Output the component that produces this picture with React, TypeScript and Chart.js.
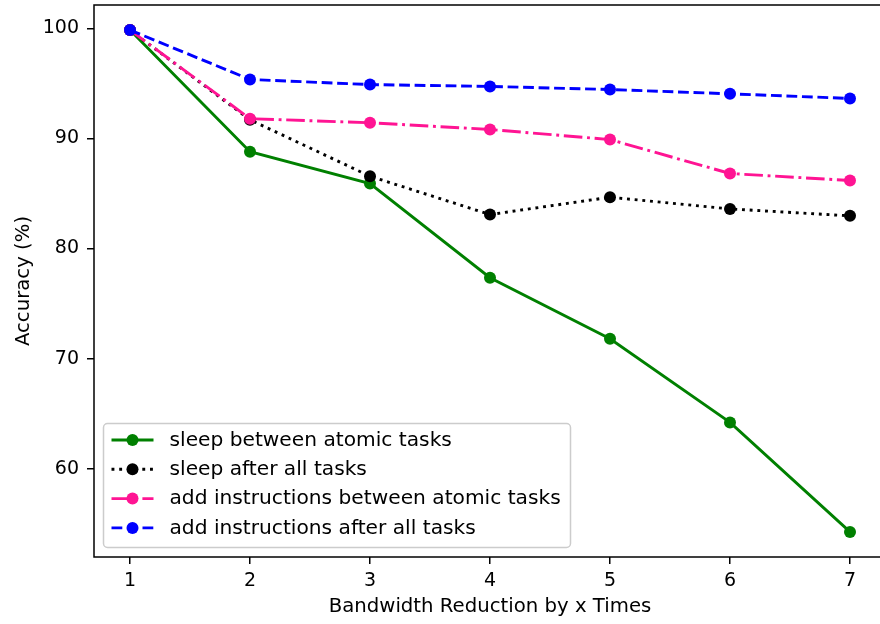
import React, { useEffect, useRef } from "react";
import { Chart, registerables } from "chart.js";

Chart.register(...registerables);

// ---- data ----
const xValues = [1, 2, 3, 4, 5, 6, 7];
const xTicks = [1, 2, 3, 4, 5, 6, 7];
const yTicks = [60, 70, 80, 90, 100];

const seriesLabels = [
  "sleep between atomic tasks",
  "sleep after all tasks",
  "add instructions between atomic tasks",
  "add instructions after all tasks",
];
const sleepBetween = [99.85, 88.8, 85.9, 77.35, 71.8, 64.2, 54.25];
const sleepAfter = [99.85, 91.7, 86.57, 83.09, 84.66, 83.6, 82.97];
const addBetween = [99.85, 91.8, 91.43, 90.82, 89.9, 86.82, 86.18];
const addAfter = [99.85, 95.36, 94.9, 94.73, 94.45, 94.06, 93.64];

const xTitle = "Bandwidth Reduction by x Times";
const yTitle = "Accuracy (%)";

// ---- styles ----
const FONT = "DejaVu Sans";
const TICK_FS = 19;
const TITLE_FS = 19.7;
const LEGEND_FS = 20.2;
const LW = 2.9;
const colors = ["#008000", "#000000", "#ff1493", "#0000ff"];
const dashes: number[][] = [[], [2.9, 4.8], [18.6, 4.7, 2.9, 4.7], [10.8, 4.7]];

const framePlugin = {
  id: "frameAndLegend",
  afterDatasetsDraw(chart: any) {
    const { ctx, chartArea: a } = chart;
    ctx.save();
    // axes frame
    ctx.strokeStyle = "#000";
    ctx.lineWidth = 1.5;
    ctx.setLineDash([]);
    ctx.strokeRect(a.left, a.top, a.right - a.left, a.bottom - a.top);

    // legend
    const bx = a.left + 9.5;
    const by = a.bottom - 133.5;
    const bw = 467;
    const bh = 124;
    const r = 4;
    ctx.beginPath();
    ctx.moveTo(bx + r, by);
    ctx.lineTo(bx + bw - r, by);
    ctx.arcTo(bx + bw, by, bx + bw, by + r, r);
    ctx.lineTo(bx + bw, by + bh - r);
    ctx.arcTo(bx + bw, by + bh, bx + bw - r, by + bh, r);
    ctx.lineTo(bx + r, by + bh);
    ctx.arcTo(bx, by + bh, bx, by + bh - r, r);
    ctx.lineTo(bx, by + r);
    ctx.arcTo(bx, by, bx + r, by, r);
    ctx.closePath();
    ctx.fillStyle = "rgba(255,255,255,0.8)";
    ctx.fill();
    ctx.strokeStyle = "#cccccc";
    ctx.lineWidth = 1.5;
    ctx.stroke();

    chart.data.datasets.forEach((ds: any, i: number) => {
      const y = by + 16.5 + i * 29.3;
      const x0 = bx + 8;
      const x1 = x0 + 42;
      ctx.strokeStyle = ds.borderColor;
      ctx.lineWidth = LW;
      ctx.setLineDash(ds.borderDash || []);
      ctx.beginPath();
      ctx.moveTo(x0, y);
      ctx.lineTo(x1, y);
      ctx.stroke();
      ctx.setLineDash([]);
      ctx.fillStyle = ds.pointBackgroundColor;
      ctx.beginPath();
      ctx.arc((x0 + x1) / 2, y, 6, 0, Math.PI * 2);
      ctx.fill();
      ctx.fillStyle = "#000";
      ctx.font = `${LEGEND_FS}px "${FONT}"`;
      ctx.textBaseline = "middle";
      ctx.textAlign = "left";
      ctx.fillText(ds.label, x1 + 16, y + 0.5);
    });
    ctx.restore();
  },
};

export default function App() {
  const ref = useRef<HTMLCanvasElement | null>(null);

  useEffect(() => {
    if (!ref.current) return;
    const all = [...sleepBetween, ...sleepAfter, ...addBetween, ...addAfter];
    const yMinD = Math.min(...all);
    const yMaxD = Math.max(...all);
    const yPad = 0.05 * (yMaxD - yMinD);
    const xMinD = Math.min(...xValues);
    const xMaxD = Math.max(...xValues);
    const xPad = 0.05 * (xMaxD - xMinD);

    const seriesValues = [sleepBetween, sleepAfter, addBetween, addAfter];
    const datasets = seriesValues.map((vals, i) => ({
      label: seriesLabels[i],
      data: xValues.map((x, j) => ({ x, y: vals[j] })),
      borderColor: colors[i],
      backgroundColor: colors[i],
      pointBackgroundColor: colors[i],
      pointBorderColor: colors[i],
      pointBorderWidth: 0,
      pointRadius: 6,
      pointHoverRadius: 6,
      borderWidth: LW,
      borderDash: dashes[i],
      tension: 0,
      fill: false,
      order: seriesValues.length - i,
    }));

    const tickFont = { family: FONT, size: TICK_FS };
    const titleFont = { family: FONT, size: TITLE_FS };
    const chart = new Chart(ref.current, {
      type: "line",
      data: { datasets },
      plugins: [framePlugin],
      options: {
        animation: false,
        responsive: false,
        devicePixelRatio: 1,
        events: [],
        layout: { autoPadding: false, padding: { top: 5, left: 0, right: 0, bottom: 0 } },
        plugins: { legend: { display: false }, tooltip: { enabled: false } },
        scales: {
          x: {
            type: "linear",
            min: xMinD - xPad,
            max: xMaxD + xPad,
            afterBuildTicks: (s: any) => {
              s.ticks = xTicks.map((v) => ({ value: v }));
            },
            afterFit: (s: any) => {
              s.height = 67;
              s.paddingLeft = 0;
              s.paddingRight = 0;
              s.paddingTop = 0;
              s.paddingBottom = 0;
            },
            grid: {
              display: true,
              drawOnChartArea: false,
              drawTicks: true,
              tickLength: 7,
              color: "#000",
              lineWidth: 1.5,
            },
            border: { display: false },
            ticks: {
              font: tickFont,
              color: "#000",
              padding: 6,
              maxRotation: 0,
              autoSkip: false,
              callback: (v: any) => String(v),
            },
            title: {
              display: true,
              text: xTitle,
              font: titleFont,
              color: "#000",
              padding: { top: 0, bottom: 5 },
            },
          },
          y: {
            type: "linear",
            min: yMinD - yPad,
            max: yMaxD + yPad,
            afterBuildTicks: (s: any) => {
              s.ticks = yTicks.map((v) => ({ value: v }));
            },
            afterFit: (s: any) => {
              s.width = 94;
              s.paddingLeft = 0;
              s.paddingRight = 0;
              s.paddingTop = 0;
              s.paddingBottom = 0;
            },
            grid: {
              display: true,
              drawOnChartArea: false,
              drawTicks: true,
              tickLength: 7,
              color: "#000",
              lineWidth: 1.5,
            },
            border: { display: false },
            ticks: {
              font: tickFont,
              color: "#000",
              padding: 8,
              autoSkip: false,
              callback: (v: any) => String(v),
            },
            title: {
              display: true,
              text: yTitle,
              font: titleFont,
              color: "#000",
              padding: { top: 12.4, bottom: 0 },
            },
          },
        },
      },
    } as any);
    return () => chart.destroy();
  }, []);

  return (
    <div
      style={{
        position: "fixed",
        left: 0,
        top: 0,
        width: 880,
        height: 624,
        overflow: "hidden",
        background: "#fff",
      }}
    >
      <div style={{ width: 886, height: 624 }}>
        <canvas
          ref={ref}
          width={886}
          height={624}
          style={{ display: "block", width: 886, height: 624 }}
        />
      </div>
    </div>
  );
}
